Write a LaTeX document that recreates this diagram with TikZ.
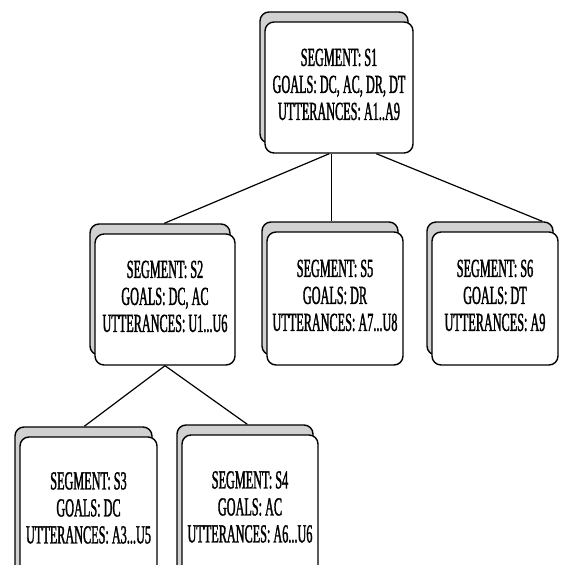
\documentclass[tikz,border=0pt]{standalone}
\usepackage{fontspec}
\setmainfont{Liberation Serif}[FakeStretch=0.47, FakeBold=1.2]
\usetikzlibrary{shadows,calc}
\newcommand\cardtext[3]{\raisebox{5pt}{\begin{tabular}{@{}c@{}}#1\\#2\\#3\end{tabular}}}
\tikzset{
  card/.style={draw=black, line width=1.4pt, rounded corners=9pt, fill=white, inner sep=0pt,
    font=\fontsize{26}{27}\selectfont,
    copy shadow={shadow xshift=-5pt, shadow yshift=10pt, fill=black!18, draw=black, line width=1.4pt}},
  link/.style={draw=black, line width=1.2pt}
}
\begin{document}
\begin{tikzpicture}[x=1pt,y=-1pt]
\useasboundingbox (0,0) rectangle (560,565);
\clip (0,0) rectangle (560,565);
\node[card, minimum width=148pt, minimum height=131pt] (s1) at (339,87.5)
  {\cardtext{SEGMENT: S1}{GOALS: DC, AC, DR, DT}{UTTERANCES: A1..A9}};
\node[card, minimum width=140pt, minimum height=131pt] (s2) at (165,299.5)
  {\cardtext{SEGMENT: S2}{GOALS: DC, AC}{UTTERANCES: U1...U6}};
\node[card, minimum width=136pt, minimum height=133pt] (s5) at (335,298.5)
  {\cardtext{SEGMENT: S5}{GOALS: DR}{UTTERANCES: A7...U8}};
\node[card, minimum width=126pt, minimum height=133pt] (s6) at (495,298.5)
  {\cardtext{SEGMENT: S6}{GOALS: DT}{UTTERANCES: A9}};
\node[card, minimum width=137pt, minimum height=148pt] (s3) at (88.5,511)
  {\raisebox{-4pt}{\cardtext{SEGMENT: S3}{GOALS: DC}{UTTERANCES: A3...U5}}};
\node[card, minimum width=136pt, minimum height=150pt] (s4) at (250,510)
  {\raisebox{-4pt}{\cardtext{SEGMENT: S4}{GOALS: AC}{UTTERANCES: A6...U6}}};
\draw[link] ($(s1.south west)+(65,0)$) -- ($(s2.north west)+(70,-10)$);
\draw[link] ($(s1.south west)+(67,0)$) -- ($(s5.north west)+(65,-10)$);
\draw[link] ($(s1.south west)+(112,0)$) -- ($(s6.north west)+(111,-10)$);
\draw[link] (s2.south) -- ($(s3.north west)+(65,-10)$);
\draw[link] (s2.south) -- ($(s4.north west)+(66,-10)$);
\end{tikzpicture}
\end{document}
